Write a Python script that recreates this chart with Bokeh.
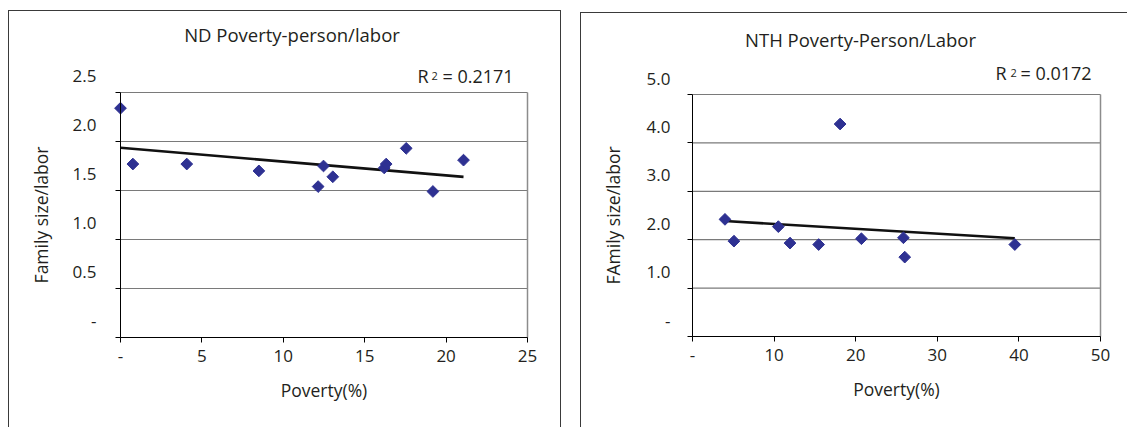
import numpy as np
from bokeh.plotting import figure
from bokeh.layouts import row
from bokeh.models import FixedTicker, Range1d
from bokeh.core.properties import value
from bokeh.embed import file_html
from bokeh.resources import INLINE

# ---------------- data: ND panel ----------------
nd_poverty = [0.0, 0.76, 4.07, 8.5, 12.14, 12.47, 13.04, 16.2, 16.32, 17.55, 19.19, 21.07]
nd_ratio = [2.34, 1.77, 1.77, 1.70, 1.54, 1.75, 1.64, 1.73, 1.77, 1.93, 1.49, 1.81]
nd_xticks = [0, 5, 10, 15, 20, 25]
nd_xlabels = ["-", "5", "10", "15", "20", "25"]
nd_yticks = [0, 0.5, 1.0, 1.5, 2.0, 2.5]
nd_ylabels = ["-", "0.5", "1.0", "1.5", "2.0", "2.5"]
nd_title = "ND Poverty-person/labor"
nd_r2 = "= 0.2171"
nd_ytitle = "Family size/labor"

# ---------------- data: NTH panel ----------------
nth_poverty = [3.98, 5.08, 10.52, 11.95, 15.46, 18.09, 20.7, 25.85, 26.01, 39.5]
nth_ratio = [2.42, 1.97, 2.27, 1.93, 1.90, 4.39, 2.02, 2.04, 1.64, 1.90]
nth_xticks = [0, 10, 20, 30, 40, 50]
nth_xlabels = ["-", "10", "20", "30", "40", "50"]
nth_yticks = [0, 1.0, 2.0, 3.0, 4.0, 5.0]
nth_ylabels = ["-", "1.0", "2.0", "3.0", "4.0", "5.0"]
nth_title = "NTH Poverty-Person/Labor"
nth_r2 = "= 0.0172"
nth_ytitle = "FAmily size/labor"

xtitle = "Poverty(%)"

FONT = "Open Sans"
TXT = "#231f20"
MARK = "#2e3192"
FS = "17px"
FS_TITLE = "18.5px"
FS_R2 = "18px"
FS_AX = "17.5px"


def panel(xs, ys, xticks, xlabels, yticks, ylabels, title, r2, ytitle,
          width, height, pad, title_off, r2_off, ylab_off, margin, styles):
    # pad = pixel distance from canvas edges to the plot box (left, right, top, bottom)
    pl, pr, pt, pb = pad
    fw = width - pl - pr
    fh = height - pt - pb
    x0, x1 = xticks[0], xticks[-1]
    y0, y1 = yticks[0], yticks[-1]
    ux = (x1 - x0) / fw
    uy = (y1 - y0) / fh
    p = figure(width=width, height=height,
               x_range=Range1d(x0 - pl * ux, x1 + pr * ux),
               y_range=Range1d(y0 - pb * uy, y1 + pt * uy),
               output_backend="svg", toolbar_location=None,
               min_border=0)
    p.margin = margin
    p.styles = styles
    p.background_fill_color = "white"
    p.border_fill_color = "white"
    p.outline_line_color = None
    p.xgrid.visible = False
    p.ygrid.visible = False

    # horizontal grid lines + right border of plot box
    p.segment(x0=[x0] * len(yticks), x1=[x1] * len(yticks), y0=yticks, y1=yticks,
              line_color="#7a7a7a", line_width=1.2)
    p.segment(x0=[x1], x1=[x1], y0=[y0], y1=[y1], line_color="#8c8c8c", line_width=1.5)

    xa = p.xaxis[0]
    xa.fixed_location = y0
    xa.bounds = (x0, x1)
    xa.ticker = FixedTicker(ticks=xticks)
    xa.major_label_overrides = {t: l for t, l in zip(xticks, xlabels)}
    xa.major_tick_out = 5
    xa.major_tick_in = 0
    xa.minor_tick_line_color = None
    xa.axis_line_color = "black"
    xa.major_tick_line_color = "black"
    xa.major_label_text_font = FONT
    xa.major_label_text_font_size = FS
    xa.major_label_text_color = TXT
    xa.major_label_standoff = 7
    xa.axis_label = xtitle
    xa.axis_label_text_font = FONT
    xa.axis_label_text_font_size = FS_AX
    xa.axis_label_text_font_style = "normal"
    xa.axis_label_text_color = TXT
    xa.axis_label_standoff = 13

    ya = p.yaxis[0]
    ya.fixed_location = x0
    ya.bounds = (y0, y1)
    ya.ticker = FixedTicker(ticks=yticks)
    ya.major_label_overrides = {t: "" for t in yticks}
    ya.major_tick_out = 5
    ya.major_tick_in = 0
    ya.minor_tick_line_color = None
    ya.axis_line_color = "black"
    ya.major_tick_line_color = "black"
    ya.major_label_standoff = 0
    ya.axis_label = ytitle
    ya.axis_label_text_font = FONT
    ya.axis_label_text_font_size = FS_AX
    ya.axis_label_text_font_style = "normal"
    ya.axis_label_text_color = TXT
    ya.axis_label_standoff = 63

    # y tick labels (shifted upward, as in the source)
    p.text(x=[x0] * len(yticks), y=yticks, text=ylabels,
           x_offset=-ylab_off[0], y_offset=-ylab_off[1],
           text_align="right", text_baseline="middle",
           text_font=value(FONT), text_font_size=FS, text_color=TXT)

    # trend line (least squares)
    k, b = np.polyfit(np.array(xs), np.array(ys), 1)
    lx = [min(xs), max(xs)]
    ly = [k * v + b for v in lx]
    p.line(lx, ly, line_color="#111111", line_width=2.6)

    p.scatter(xs, ys, marker="square", size=8.3, angle=np.pi / 4,
              fill_color=MARK, line_color=MARK)

    xmid = (x0 + x1) / 2
    p.text(x=[xmid], y=[y1], text=[title], x_offset=title_off[0], y_offset=-title_off[1],
           text_align="center", text_baseline="middle",
           text_font=value(FONT), text_font_size=FS_TITLE, text_color=TXT)
    rx, ry = r2_off
    p.text(x=[x1], y=[y1], text=["R"], x_offset=rx[0], y_offset=-ry,
           text_align="left", text_baseline="middle",
           text_font=value(FONT), text_font_size=FS_R2, text_color=TXT)
    p.text(x=[x1], y=[y1], text=["2"], x_offset=rx[1], y_offset=-ry,
           text_align="left", text_baseline="middle",
           text_font=value(FONT), text_font_size="11px", text_color=TXT)
    p.text(x=[x1], y=[y1], text=[r2], x_offset=rx[2], y_offset=-ry,
           text_align="left", text_baseline="middle",
           text_font=value(FONT), text_font_size=FS_R2, text_color=TXT)
    return p


BOX = "1px solid #3a3a3a"
p1 = panel(nd_poverty, nd_ratio, nd_xticks, nd_xlabels, nd_yticks, nd_ylabels,
           nd_title, nd_r2, nd_ytitle,
           width=553, height=417, pad=(111, 35, 81, 91),
           title_off=(-32, 58), r2_off=((-110, -96, -85), 16.5), ylab_off=(24, 17),
           margin=(10, 0, 0, 8),
           styles={"border-left": BOX, "border-top": BOX, "border-right": BOX})
p2 = panel(nth_poverty, nth_ratio, nth_xticks, nth_xlabels, nth_yticks, nth_ylabels,
           nth_title, nth_r2, nth_ytitle,
           width=547, height=415, pad=(111, 28, 81, 92),
           title_off=(-36, 55), r2_off=((-105, -90, -80), 22), ylab_off=(22, 16),
           margin=(12, 0, 0, 19),
           styles={"border-left": BOX, "border-top": BOX})

layout = row(p1, p2)
open("out.html", "w").write(file_html(layout, INLINE))
